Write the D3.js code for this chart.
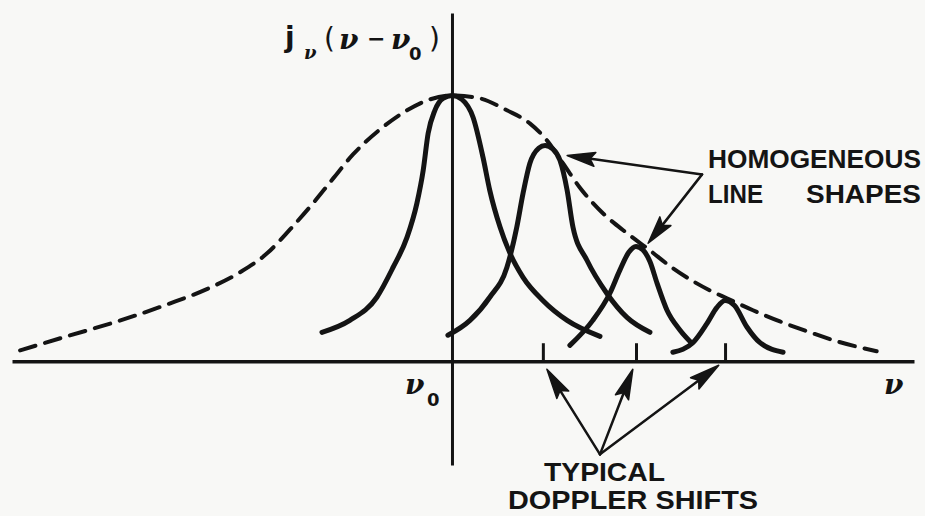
<!DOCTYPE html>
<html><head><meta charset="utf-8">
<script src="https://cdn.jsdelivr.net/npm/d3@7"></script>
<style>html,body{margin:0;padding:0;background:#f8f8f6;} svg{display:block;}</style>
</head><body><svg id="c" width="925" height="516"></svg>
<script>
// ---- data (ν relative to ν0, j normalised to the central peak) ----
const envelope = [
  [-9.60,0.041],[-8.56,0.094],[-7.44,0.150],[-6.33,0.214],[-5.31,0.282],[-4.71,0.335],
  [-4.11,0.406],[-3.60,0.496],[-3.09,0.594],[-2.64,0.688],[-2.20,0.778],[-1.60,0.872],
  [-1.00,0.944],[-0.49,0.985],[0,1],[0.62,0.989],[1.22,0.944],[1.73,0.895],[2.11,0.831],
  [2.47,0.744],[2.84,0.654],[3.36,0.556],[3.89,0.482],[4.40,0.417],[4.91,0.350],
  [5.36,0.301],[5.73,0.267],[6.11,0.237],[6.69,0.192],[7.29,0.150],[7.89,0.113],
  [8.56,0.075],[9.44,0.038]
];
const line1 = [
  [-2.89,0.109],[-2.27,0.154],[-1.67,0.241],[-1.31,0.353],[-1.00,0.466],[-0.78,0.594],
  [-0.64,0.718],[-0.53,0.857],[-0.38,0.944],[-0.20,0.989],[0,1],[0.22,0.985],[0.47,0.917],
  [0.69,0.767],[0.84,0.643],[1.07,0.504],[1.29,0.406],[1.58,0.316],[2.02,0.229],
  [2.56,0.154],[3.29,0.094]
];
const line2 = [
  [-0.09,0.098],[0.40,0.154],[0.84,0.241],[1.22,0.353],[1.44,0.504],[1.58,0.632],
  [1.73,0.744],[1.93,0.802],[2.07,0.812],[2.24,0.799],[2.40,0.756],[2.56,0.643],
  [2.69,0.504],[3.00,0.380],[3.44,0.256],[3.89,0.165],[4.40,0.109]
];
const line3 = [
  [2.62,0.060],[3.13,0.154],[3.51,0.256],[3.73,0.342],[3.93,0.410],[4.09,0.432],
  [4.24,0.420],[4.40,0.375],[4.56,0.293],[4.78,0.192],[5.07,0.117],[5.33,0.068]
];
const line4 = [
  [4.91,0.034],[5.36,0.071],[5.67,0.143],[5.89,0.203],[6.07,0.229],[6.28,0.210],
  [6.56,0.128],[6.84,0.071],[7.36,0.034]
];
const dopplerShifts = [2.02, 4.09, 6.07];
const tickHeight = 0.068;
const nuExtent = [-9.78, 10.27];
const jExtent = [-0.39, 1.31];
// annotation arrows: [start, tip] in (ν, j)
const homogeneousArrows = [
  [[5.56,0.703],[2.56,0.774]],
  [[5.56,0.703],[4.36,0.444]]
];
const dopplerArrows = [
  [[3.29,-0.350],[2.11,-0.030]],
  [[3.29,-0.350],[4.02,-0.030]],
  [[3.29,-0.350],[5.93,-0.015]]
];

// ---- drawing ----
const W = 925, H = 516, ink = "#141414";
const x = d3.scaleLinear().domain(nuExtent).range([12, 914]);
const y = d3.scaleLinear().domain(jExtent).range([465, 13]);
const svg = d3.select("#c");
svg.append("rect").attr("width", W).attr("height", H).attr("fill", "#f8f8f6");

const xAxis = d3.axisBottom(x).tickValues(dopplerShifts)
  .tickSizeInner(-(y(0) - y(tickHeight))).tickSizeOuter(0).tickFormat("");
const gx = svg.append("g").attr("transform", `translate(0,${y(0)})`).call(xAxis);
gx.select(".domain").attr("stroke", ink).attr("stroke-width", 3.5);
gx.selectAll(".tick line").attr("stroke", ink).attr("stroke-width", 3);

const yAxis = d3.axisLeft(y).tickValues([]).tickSizeOuter(0);
const gy = svg.append("g").attr("transform", `translate(${x(0)},0)`).call(yAxis);
gy.select(".domain").attr("stroke", ink).attr("stroke-width", 3);

const lineGen = d3.line().x(d => x(d[0])).y(d => y(d[1]))
  .curve(d3.curveMonotoneX);

svg.append("path").attr("d", lineGen(envelope)).attr("fill", "none")
  .attr("stroke", ink).attr("stroke-width", 4).attr("stroke-dasharray", "16,10")
  .attr("stroke-linecap", "round");

[line1, line2, line3, line4].forEach(l => {
  svg.append("path").attr("d", lineGen(l)).attr("fill", "none")
    .attr("stroke", ink).attr("stroke-width", 5).attr("stroke-linecap", "round")
    .attr("stroke-linejoin", "round");
});

function arrow(from, to, len, hw, sw) {
  const x0 = x(from[0]), y0 = y(from[1]), x1 = x(to[0]), y1 = y(to[1]);
  const dx = x1 - x0, dy = y1 - y0, L = Math.hypot(dx, dy);
  const ux = dx / L, uy = dy / L, bx = x1 - ux * len, by = y1 - uy * len;
  svg.append("line").attr("x1", x0).attr("y1", y0).attr("x2", bx + ux * 4).attr("y2", by + uy * 4)
    .attr("stroke", ink).attr("stroke-width", sw).attr("stroke-linecap", "round");
  svg.append("path")
    .attr("d", `M${x1},${y1}L${bx - uy * hw},${by + ux * hw}L${bx + ux * 5},${by + uy * 5}L${bx + uy * hw},${by - ux * hw}Z`)
    .attr("fill", ink).attr("stroke", ink).attr("stroke-width", 1.5).attr("stroke-linejoin", "round");
}
homogeneousArrows.forEach(a => arrow(a[0], a[1], 28, 7, 2.5));
dopplerArrows.forEach(a => arrow(a[0], a[1], 30, 7, 2.5));

// ---- text ----
const label = (txt, px, py, len) => svg.append("text").attr("x", px).attr("y", py)
  .attr("font-family", "Liberation Sans, Arial, sans-serif").attr("font-weight", "bold")
  .attr("font-size", 26).attr("fill", ink)
  .attr("textLength", len).attr("lengthAdjust", "spacingAndGlyphs").text(txt);
label("HOMOGENEOUS", 708, 168, 213);
const ls = svg.append("text").attr("font-family", "Liberation Sans, Arial, sans-serif")
  .attr("font-weight", "bold").attr("font-size", 26).attr("fill", ink);
ls.append("tspan").attr("x", 708).attr("y", 203).attr("textLength", 55)
  .attr("lengthAdjust", "spacingAndGlyphs").text("LINE");
ls.append("tspan").attr("x", 806).attr("y", 203).attr("textLength", 115)
  .attr("lengthAdjust", "spacingAndGlyphs").text("SHAPES");
label("TYPICAL", 544, 481, 121);
label("DOPPLER SHIFTS", 508, 509, 250);

const greek = "DejaVu Serif, serif";
const t = svg.append("text").attr("fill", ink).attr("font-family", greek)
  .attr("font-weight", "bold").attr("font-size", 28);
t.append("tspan").attr("x", 285).attr("y", 47).attr("font-family", "DejaVu Sans, sans-serif").text("j");
t.append("tspan").attr("x", 304).attr("y", 59).attr("font-size", 18).attr("font-style", "italic").text("ν");
t.append("tspan").attr("x", 324).attr("y", 48).attr("font-family", "DejaVu Sans, sans-serif").attr("font-weight", "normal").text("(");
t.append("tspan").attr("x", 339).attr("y", 49).attr("font-style", "italic").text("ν");
t.append("tspan").attr("x", 367).attr("y", 46).attr("font-size", 22).attr("font-weight", "bold").attr("font-family", "DejaVu Sans, sans-serif").text("−");
t.append("tspan").attr("x", 391).attr("y", 49).attr("font-style", "italic").text("ν");
t.append("tspan").attr("x", 409).attr("y", 60).attr("font-size", 18).attr("font-family", "DejaVu Sans, sans-serif").text("0");
t.append("tspan").attr("x", 429).attr("y", 48).attr("font-family", "DejaVu Sans, sans-serif").attr("font-weight", "normal").text(")");

const n0 = svg.append("text").attr("fill", ink).attr("font-family", greek)
  .attr("font-weight", "bold").attr("font-size", 28);
n0.append("tspan").attr("x", 405).attr("y", 394).attr("font-style", "italic").text("ν");
n0.append("tspan").attr("x", 427).attr("y", 406).attr("font-size", 18).attr("font-family", "DejaVu Sans, sans-serif").text("0");
svg.append("text").attr("fill", ink).attr("font-family", greek).attr("font-weight", "bold")
  .attr("font-size", 28).attr("font-style", "italic").attr("x", 884).attr("y", 394).text("ν");
</script></body></html>
